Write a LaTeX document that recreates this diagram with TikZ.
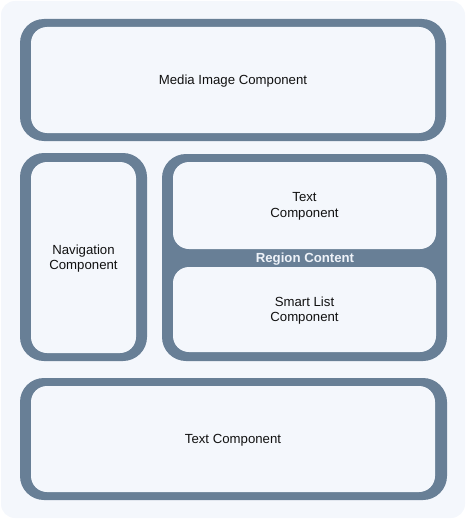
\documentclass[tikz,border=0pt]{standalone}
\usepackage{fontspec}
\setmainfont{Liberation Sans}
\usepackage{xcolor}
\usetikzlibrary{positioning}
\definecolor{bandcol}{RGB}{104,127,150}
\definecolor{panelcol}{RGB}{244,247,252}
\definecolor{labelcol}{RGB}{238,242,248}
\definecolor{inkcol}{RGB}{17,17,17}
\begin{document}
\begin{tikzpicture}[x=1pt, y=-1pt, font=\fontsize{13.2}{15.6}\selectfont]
\tikzstyle{frm}=[fill=bandcol, rounded corners=24pt, inner sep=0pt]
\tikzstyle{pnl}=[fill=panelcol, rounded corners=16pt, inner sep=0pt, align=center, text=inkcol]
\useasboundingbox (0,0) rectangle (466,519);
\fill[panelcol, rounded corners=14pt] (1,1) rectangle (465,518);

% outer frames
\node[frm, minimum width=426pt, minimum height=122pt] (mediaframe) at (233,80) {};
\node[frm, minimum width=127pt, minimum height=208pt] (navframe) at (83.5,257) {};
\node[frm, minimum width=285pt, minimum height=207pt] (regionframe) at (304.5,257.5) {};
\node[frm, minimum width=427pt, minimum height=122pt] (bottomframe) at (233.5,439) {};

% inner panels
\node[pnl, minimum width=404pt, minimum height=106pt] (media) at (mediaframe) {};
\node[pnl, minimum width=105pt, minimum height=191pt] (nav) at (83.5,257.5) {};
\node[pnl, minimum width=263pt, minimum height=87pt] (text) at (304.5,205.5) {};
\node[pnl, minimum width=263pt, minimum height=85pt] (smart) at (304.5,309.5) {};
\node[pnl, minimum width=404pt, minimum height=106pt] (bottomtext) at (233,439) {};

% labels
\node[align=center, text=inkcol] (medialbl) at ([yshift=-1.5pt]media) {Media Image Component};
\node[align=center, text=inkcol] (navlbl) at ([yshift=-1pt]nav) {Navigation\\Component};
\node[align=center, text=inkcol] (textlbl) at ([yshift=-1pt]text) {Text\\Component};
\node[align=center, text=inkcol] (smartlbl) at ([yshift=-1pt]smart) {Smart List\\Component};
\node[align=center, text=inkcol] (bottomlbl) at ([yshift=-1pt]bottomtext) {Text Component};
\node[text=labelcol, font=\fontsize{13.2}{15.6}\selectfont\bfseries] (regionlbl) at (305,259) {Region Content};
\end{tikzpicture}
\end{document}
